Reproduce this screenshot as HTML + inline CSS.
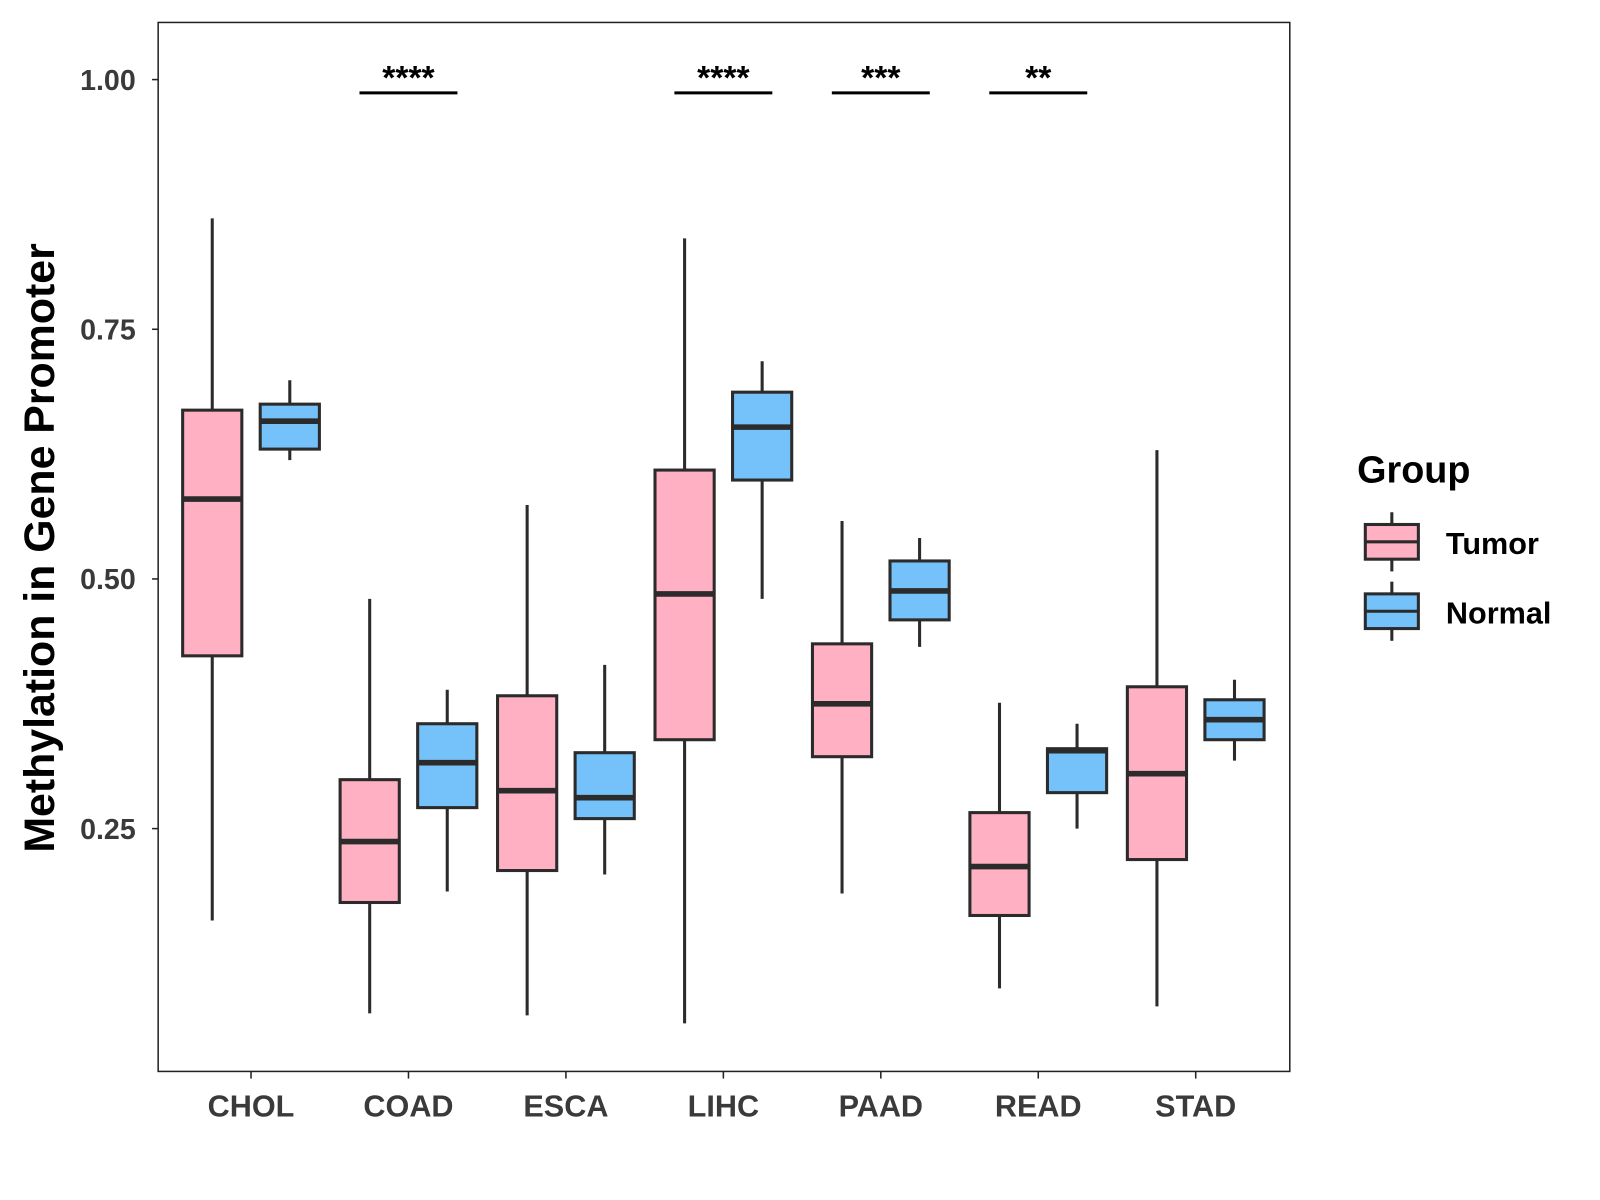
<!DOCTYPE html>
<html><head><meta charset="utf-8"><style>
html,body{margin:0;padding:0;background:#fff;}
svg{display:block;font-family:"Liberation Sans",Arial,sans-serif;}
</style></head><body>
<svg id="chart" width="1600" height="1200" viewBox="0 0 1568 1176" xmlns="http://www.w3.org/2000/svg">
<rect x="0" y="0" width="1568" height="1176" fill="#fff"/>
<g id="marks"></g>
<rect x="155" y="22" width="1109" height="1028" fill="none" stroke="#222" stroke-width="1.5"/>
<text transform="translate(53,537) rotate(-90)" text-anchor="middle" font-size="42" font-weight="bold" fill="#000">Methylation in Gene Promoter</text>
<g>
<text x="1330" y="473" font-size="37" font-weight="bold">Group</text>
<g>
<line x1="1364" y1="502" x2="1364" y2="560" stroke="#2b2b2b" stroke-width="3"/>
<rect x="1338" y="514" width="52" height="34" fill="#FFB0C3" stroke="#2b2b2b" stroke-width="3"/>
<line x1="1338" y1="531" x2="1390" y2="531" stroke="#2b2b2b" stroke-width="3"/>
<text x="1417" y="543" font-size="30" font-weight="bold">Tumor</text></g>
<g>
<line x1="1364" y1="570" x2="1364" y2="628" stroke="#2b2b2b" stroke-width="3"/>
<rect x="1338" y="582" width="52" height="34" fill="#75C1FA" stroke="#2b2b2b" stroke-width="3"/>
<line x1="1338" y1="599" x2="1390" y2="599" stroke="#2b2b2b" stroke-width="3"/>
<text x="1417" y="611" font-size="30" font-weight="bold">Normal</text></g>
</g>
</svg>
<script>
const categories=["CHOL","COAD","ESCA","LIHC","PAAD","READ","STAD"];
// [low, q1, median, q3, high]
const tumorStats=[[0.158,0.423,0.580,0.669,0.861],[0.065,0.176,0.237,0.299,0.480],[0.063,0.208,0.288,0.383,0.574],[0.055,0.339,0.485,0.609,0.841],[0.185,0.322,0.375,0.435,0.558],[0.090,0.163,0.212,0.266,0.376],[0.072,0.219,0.305,0.392,0.629]];
const normalStats=[[0.619,0.630,0.658,0.675,0.699],[0.187,0.271,0.316,0.355,0.389],[0.204,0.260,0.281,0.326,0.414],[0.480,0.599,0.652,0.687,0.718],[0.432,0.459,0.488,0.518,0.541],[0.250,0.286,0.328,0.330,0.355],[0.318,0.339,0.359,0.379,0.399]];
const yTicks=[0.25,0.50,0.75,1.00];
const yTickLabels=["0.25","0.50","0.75","1.00"];
const sigCategories=["COAD","LIHC","PAAD","READ"];
const sigLabels=["****","****","***","**"];
const NS="http://www.w3.org/2000/svg";
const g=document.getElementById('marks');
function y(v){return 78+(1-v)*978.7;}
function x(i){return 246+i*154.3;}
function mk(t,a,p){const e=document.createElementNS(NS,t);for(const k in a)e.setAttribute(k,a[k]);(p||g).appendChild(e);return e;}
yTicks.forEach((v,i)=>{
 const t=mk('line',{x1:149,x2:155,y1:y(v),y2:y(v),stroke:'#222','stroke-width':1.5});
 
 
 const l=mk('text',{x:133,y:y(v)+10,'text-anchor':'end','font-size':28,'font-weight':'bold',fill:'#3a3a3a'});
 l.textContent=yTickLabels[i];
 
 
});
categories.forEach((c,i)=>{
 const t=mk('line',{x1:x(i),x2:x(i),y1:1050,y2:1057,stroke:'#222','stroke-width':1.5});
 
 
 const l=mk('text',{x:x(i),y:1094,'text-anchor':'middle','font-size':30,'font-weight':'bold',fill:'#3a3a3a'});
 l.textContent=c;
 
 
});
function box(cx,s,fill,name){
 const bg=mk('g',{});
 
 
 const st={stroke:'#2b2b2b','stroke-width':3};
 mk('line',Object.assign({x1:cx,x2:cx,y1:y(s[4]),y2:y(s[0])},st),bg);
 mk('rect',Object.assign({x:cx-29,y:y(s[3]),width:58,height:y(s[1])-y(s[3]),fill:fill},st),bg);
 mk('line',{x1:cx-29,x2:cx+29,y1:y(s[2]),y2:y(s[2]),stroke:'#2b2b2b','stroke-width':5.5},bg);
}
categories.forEach((c,i)=>{
 box(x(i)-38,tumorStats[i],'#FFB0C3','box-tumor-'+c.toLowerCase());
 box(x(i)+38,normalStats[i],'#75C1FA','box-normal-'+c.toLowerCase());
});
sigCategories.forEach((c,j)=>{
 const i=categories.indexOf(c);
 const l=mk('line',{x1:x(i)-48,x2:x(i)+48,y1:91,y2:91,stroke:'#000','stroke-width':3});
 
 
 const t=mk('text',{x:x(i),y:87,'text-anchor':'middle','font-size':33,'font-weight':'bold',fill:'#000'});
 t.textContent=sigLabels[j];
 
 
});
</script>
</body></html>
